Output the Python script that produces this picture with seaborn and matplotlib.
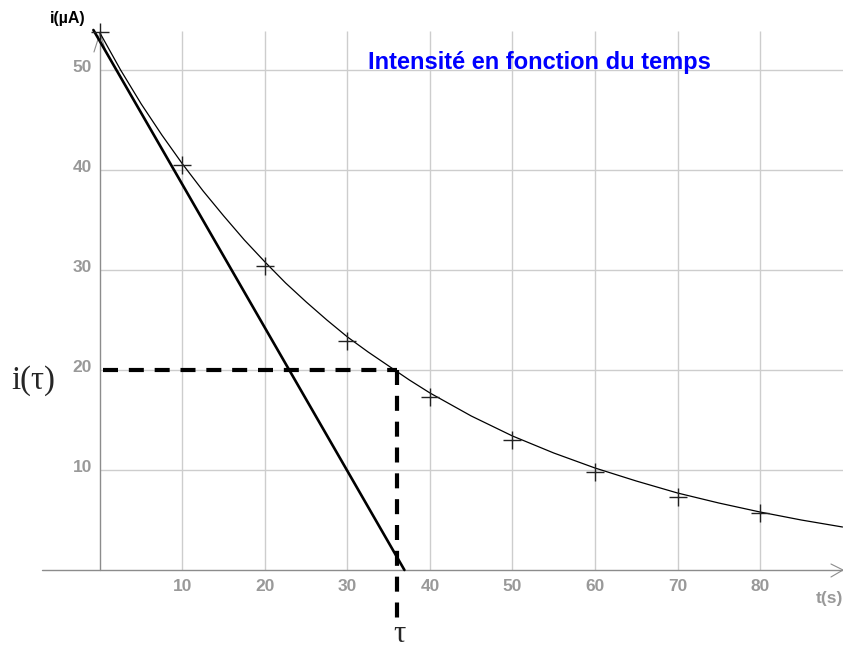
import numpy as np
import pandas as pd
import matplotlib.pyplot as plt
import seaborn as sns

# measured points (t in s, i in µA)
t_meas = [0, 10, 20, 30, 40, 50, 60, 70, 80]
i_meas = [53.8, 40.5, 30.4, 22.9, 17.3, 13.0, 9.8, 7.3, 5.7]

# fitted curve
t_fit = [0, 2.5, 5, 7.5, 10, 12.5, 15, 17.5, 20, 22.5, 25, 27.5, 30, 32.5, 35,
         37.5, 40, 45, 50, 55, 60, 65, 70, 75, 80, 85, 90]
i_fit = [53.7, 50.0, 46.6, 43.5, 40.6, 37.9, 35.4, 33.0, 30.8, 28.7, 26.8, 25.0,
         23.3, 21.8, 20.4, 19.0, 17.7, 15.4, 13.4, 11.7, 10.2, 8.9, 7.7, 6.7,
         5.8, 5.0, 4.3]

# tangent at the origin
t_tan = [-0.8, 36.9]
i_tan = [54.0, 0.0]

tau = 36.0
i_tau = 20.0

x_ticks = [10, 20, 30, 40, 50, 60, 70, 80]
y_ticks = [10, 20, 30, 40, 50]

sns.set_style("white")
plt.rcParams['font.family'] = ['Liberation Sans', 'DejaVu Sans']

fig = plt.figure(figsize=(8.43, 6.48), dpi=100)
ax = fig.add_axes([0, 0, 1, 1])
ax.set_axis_off()

xmin, xmax = -12.12, 90.06
ymin, ymax = -7.8, 57.0

grid_c = '#cdcdcd'
axis_c = '#8c8c8c'
tick_c = '#999999'
serif = ['Liberation Serif', 'DejaVu Serif']

# grid
ax.vlines(x_ticks, 0, 53.9, color=grid_c, lw=1, zorder=1)
ax.hlines(y_ticks, 0, xmax, color=grid_c, lw=1, zorder=1)

# axes lines + arrow heads
ax.plot([-7.0, xmax], [0, 0], color=axis_c, lw=1, zorder=2)
ax.plot([0, 0], [0, 53.9], color=axis_c, lw=1, zorder=2)
ax.plot([88.6, xmax, 88.6], [0.6, 0, -0.7], color=axis_c, lw=0.8, zorder=2)
ax.plot([-0.73, 0, 0.73], [51.8, 53.7, 51.8], color=axis_c, lw=0.8, zorder=2)

# curve, tangent, points
df_fit = pd.DataFrame({"t": t_fit, "i": i_fit})
sns.lineplot(data=df_fit, x="t", y="i", color='black', lw=0.9, ax=ax, zorder=4)
sns.lineplot(x=t_tan, y=i_tan, color='black', lw=1.9, ax=ax, zorder=4)
sns.scatterplot(x=t_meas, y=i_meas, marker='+', s=170, color='#222222',
                linewidth=1.0, ax=ax, zorder=5)

# tau construction
dash = (0, (3.6, 2.6))
ax.plot([0.35, tau], [i_tau, i_tau], color='black', lw=3, linestyle=dash, zorder=6)
ax.plot([tau, tau], [i_tau, -5.8], color='black', lw=3, linestyle=dash, zorder=6)

# tick labels
for xv in x_ticks:
    ax.text(xv, -1.65, str(xv), ha='center', va='center', color=tick_c,
            fontsize=12.5, fontweight='bold')
for yv in y_ticks:
    ax.text(-0.95, yv + 0.3, str(yv), ha='right', va='center', color=tick_c,
            fontsize=12.5, fontweight='bold')

ax.text(-3.9, 55.2, "i(µA)", ha='center', va='center', fontsize=11.5,
        fontweight='bold', color='black')
ax.text(88.4, -2.8, "t(s)", ha='center', va='center', fontsize=12.5,
        fontweight='bold', color=tick_c)

ax.text(-8.1, 18.9, "i(τ)", ha='center', va='center', fontsize=23.5, family=serif)
ax.text(tau + 0.3, -7.2, "τ", ha='center', va='baseline', fontsize=22, family=serif)

ax.text(53.3, 50.8, "Intensité en fonction du temps", ha='center', va='center',
        fontsize=17, fontweight='bold', color='#0000ff')

ax.set_xlim(xmin, xmax)
ax.set_ylim(ymin, ymax)

fig.savefig("out.png", dpi=100)
